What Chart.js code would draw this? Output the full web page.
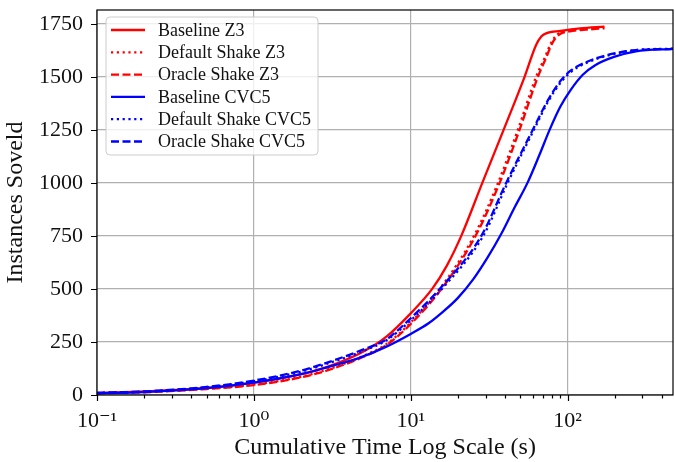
<!DOCTYPE html>
<html>
<head>
<meta charset="utf-8">
<script src="https://cdn.jsdelivr.net/npm/chart.js@4"></script>
<style>
  html, body { margin: 0; padding: 0; background: #fff; }
  #wrap { width: 675px; height: 462px; }
</style>
</head>
<body>
<div id="wrap"><canvas id="chart" width="675" height="462"></canvas></div>
<script>
// cumulative time (s) and instances solved
const baselineZ3Time = [0.1, 0.2, 0.5, 1, 2, 3, 5, 7, 10, 13.7, 17, 21, 28.6, 39.1, 53.2, 63, 68, 73, 90, 120, 172];
const baselineZ3Solved = [10, 17, 33, 58, 98, 135, 205, 275, 385, 500, 610, 750, 1000, 1250, 1500, 1650, 1690, 1705, 1716, 1728, 1737];

const defaultZ3Time = [0.1, 0.2, 0.5, 1, 2, 3, 5, 7, 10, 15.3, 25.3, 36, 48.2, 63, 71.5, 78.5, 86, 101, 130, 170];
const defaultZ3Solved = [9, 14, 30, 49, 86, 122, 185, 240, 342, 500, 750, 1000, 1250, 1500, 1590, 1660, 1700, 1716, 1725, 1733];

const oracleZ3Time = [0.1, 0.2, 0.5, 1, 2, 3, 5, 7, 10, 15.7, 25.9, 36.9, 49.4, 64.7, 73, 80, 88, 103, 130, 172];
const oracleZ3Solved = [8, 13, 28, 47, 83, 118, 180, 235, 335, 500, 750, 1000, 1250, 1500, 1590, 1660, 1698, 1714, 1722, 1729];

const baselineCvc5Time = [0.1, 0.2, 0.5, 1, 2, 3, 4.7, 7, 10, 13, 16.1, 20, 25, 31, 37.8, 46, 55.5, 66, 76.8, 90, 105, 125, 150, 200, 273, 470];
const baselineCvc5Solved = [8, 14, 32, 58, 98, 133, 175, 228, 288, 338, 393, 458, 545, 650, 760, 885, 1000, 1130, 1250, 1360, 1440, 1510, 1555, 1595, 1620, 1632];

const defaultCvc5Time = [0.1, 0.2, 0.5, 1, 2, 3, 5, 7, 10, 15.8, 29, 41.5, 61, 76, 92, 108, 134, 175, 265, 470];
const defaultCvc5Solved = [9, 16, 36, 65, 110, 150, 208, 258, 352, 500, 750, 1000, 1250, 1390, 1480, 1530, 1568, 1598, 1625, 1633];

const oracleCvc5Time = [0.1, 0.2, 0.5, 1, 2, 3, 5, 7, 10, 15.3, 28.2, 40.6, 60, 75, 90, 105, 130, 170, 259, 468];
const oracleCvc5Solved = [10, 17, 38, 68, 115, 155, 215, 262, 362, 500, 750, 1000, 1250, 1390, 1480, 1530, 1568, 1598, 1624, 1632];

const seriesNames = ["Baseline Z3", "Default Shake Z3", "Oracle Shake Z3", "Baseline CVC5", "Default Shake CVC5", "Oracle Shake CVC5"];

// axis ticks
const xMajorTicks = [0.1, 1, 10, 100];
const xMajorLabels = ["10\u207B\u00B9", "10\u2070", "10\u00B9", "10\u00B2"];
const xMinorTicks = [0.2, 0.3, 0.4, 0.5, 0.6, 0.7, 0.8, 0.9, 2, 3, 4, 5, 6, 7, 8, 9, 20, 30, 40, 50, 60, 70, 80, 90, 200, 300, 400];
const yTicks = [0, 250, 500, 750, 1000, 1250, 1500, 1750];

const RED = "#ff0000";
const BLUE = "#0000ff";
const SOLID = [];
const DOTTED = [2.2, 3.6];
const DASHED = [8, 3.5];
const FONT = "'Liberation Serif', 'DejaVu Serif', serif";

const toPoints = (times, values) => times.map((t, i) => ({ x: t, y: values[i] }));

const makeSet = (index, times, values, color, dash) => ({
    label: seriesNames[index],
    data: toPoints(times, values),
    borderColor: color,
    backgroundColor: color,
    borderWidth: 2.3,
    borderDash: dash,
    pointRadius: 0,
    fill: false,
    cubicInterpolationMode: "monotone",
    order: 6 - index
});

const datasets = [
    makeSet(0, baselineZ3Time, baselineZ3Solved, RED, SOLID),
    makeSet(1, defaultZ3Time, defaultZ3Solved, RED, DOTTED),
    makeSet(2, oracleZ3Time, oracleZ3Solved, RED, DASHED),
    makeSet(3, baselineCvc5Time, baselineCvc5Solved, BLUE, SOLID),
    makeSet(4, defaultCvc5Time, defaultCvc5Solved, BLUE, DOTTED),
    makeSet(5, oracleCvc5Time, oracleCvc5Solved, BLUE, DASHED)
];

// frame, tick marks and the boxed legend, the way matplotlib draws them
const framePlugin = {
    id: "frame",
    afterDraw(chart) {
        const ctx = chart.ctx;
        const area = chart.chartArea;
        const xScale = chart.scales.x;
        const yScale = chart.scales.y;
        ctx.save();
        ctx.strokeStyle = "#000";
        ctx.lineWidth = 1.2;
        ctx.strokeRect(area.left, area.top, area.right - area.left, area.bottom - area.top);

        ctx.beginPath();
        xMajorTicks.forEach((v) => {
            const px = Math.round(xScale.getPixelForValue(v)) + 0.5;
            ctx.moveTo(px, area.bottom);
            ctx.lineTo(px, area.bottom + 6);
        });
        xMinorTicks.forEach((v) => {
            const px = Math.round(xScale.getPixelForValue(v)) + 0.5;
            ctx.moveTo(px, area.bottom);
            ctx.lineTo(px, area.bottom + 3.5);
        });
        yTicks.forEach((v) => {
            const py = Math.round(yScale.getPixelForValue(v)) + 0.5;
            ctx.moveTo(area.left, py);
            ctx.lineTo(area.left - 6, py);
        });
        ctx.stroke();

        // legend
        const boxX = area.left + 9;
        const boxY = area.top + 7;
        const boxW = 212;
        const boxH = 138;
        ctx.beginPath();
        ctx.roundRect(boxX, boxY, boxW, boxH, 4);
        ctx.fillStyle = "rgba(255,255,255,0.8)";
        ctx.fill();
        ctx.strokeStyle = "#cccccc";
        ctx.lineWidth = 1;
        ctx.stroke();

        ctx.font = "18px " + FONT;
        ctx.textBaseline = "middle";
        ctx.textAlign = "left";
        datasets.forEach((ds, i) => {
            const rowY = boxY + 13 + i * 22.3;
            ctx.beginPath();
            ctx.setLineDash(ds.borderDash);
            ctx.strokeStyle = ds.borderColor;
            ctx.lineWidth = 2.3;
            ctx.moveTo(boxX + 5, rowY);
            ctx.lineTo(boxX + 39, rowY);
            ctx.stroke();
            ctx.setLineDash([]);
            ctx.fillStyle = "#111";
            ctx.fillText(ds.label, boxX + 52, rowY + 1);
        });
        ctx.restore();
    }
};

new Chart(document.getElementById("chart"), {
    type: "line",
    data: { datasets: datasets },
    options: {
        responsive: false,
        animation: false,
        layout: { padding: { top: 10, right: 2, left: 0, bottom: 0 } },
        plugins: {
            legend: { display: false },
            tooltip: { enabled: false }
        },
        scales: {
            x: {
                type: "logarithmic",
                min: 0.1,
                max: 470,
                afterBuildTicks: (scale) => {
                    scale.ticks = xMajorTicks.map((v) => ({ value: v, major: true }));
                },
                afterFit: (scale) => {
                    scale.height = 67;
                    scale.paddingLeft = 0;
                    scale.paddingRight = 0;
                },
                ticks: {
                    autoSkip: false,
                    maxRotation: 0,
                    padding: 13,
                    color: "#111",
                    font: { family: FONT, size: 22 },
                    callback: (value) => {
                        const idx = xMajorTicks.indexOf(value);
                        return idx >= 0 ? xMajorLabels[idx] : "";
                    }
                },
                grid: { color: "#b0b0b0", lineWidth: 1.2, drawTicks: false },
                border: { display: false },
                title: {
                    display: true,
                    text: "Cumulative Time Log Scale (s)",
                    color: "#111",
                    font: { family: FONT, size: 24, lineHeight: 1.2 },
                    padding: { top: 0, bottom: 0 }
                }
            },
            y: {
                type: "linear",
                min: 0,
                max: 1815,
                afterBuildTicks: (scale) => {
                    scale.ticks = yTicks.map((v) => ({ value: v }));
                },
                afterFit: (scale) => {
                    scale.width = 97;
                    scale.paddingTop = 0;
                    scale.paddingBottom = 0;
                },
                ticks: {
                    padding: 14,
                    color: "#111",
                    font: { family: FONT, size: 22 },
                    callback: (value) => String(value)
                },
                grid: { color: "#b0b0b0", lineWidth: 1.2, drawTicks: false },
                border: { display: false },
                title: {
                    display: true,
                    text: "Instances Soveld",
                    color: "#111",
                    font: { family: FONT, size: 24, lineHeight: 1.2 },
                    padding: { top: 1, bottom: 0 }
                }
            }
        }
    },
    plugins: [framePlugin]
});
</script>
</body>
</html>
